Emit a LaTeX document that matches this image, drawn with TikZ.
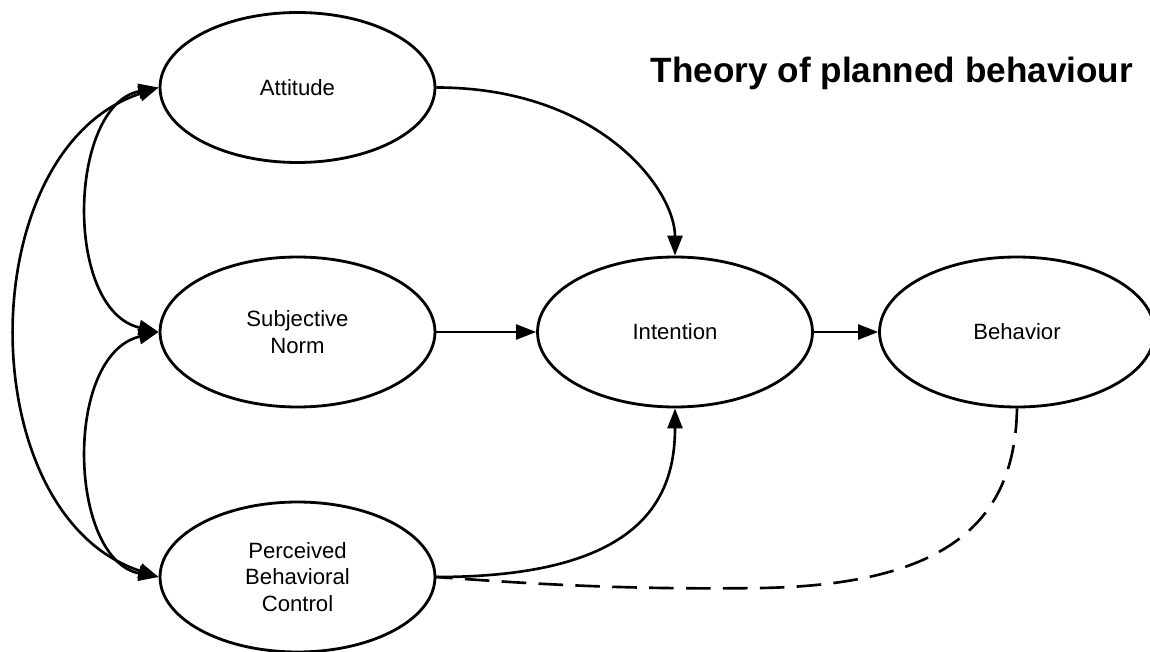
\documentclass[tikz,border=0pt]{standalone}
\usepackage{fontspec}
\setmainfont{Liberation Sans}
\usetikzlibrary{arrows.meta,shapes.geometric}
\begin{document}
\begin{tikzpicture}[x=0.02cm,y=-0.02cm,
  oval/.style={ellipse,draw,line width=1.6pt,minimum width=5.5cm,minimum height=3cm,inner sep=0pt,align=center,font=\fontsize{12.6}{15.3}\selectfont},
  tip/.style={Triangle[length=0.4cm,width=0.3cm]},
  conn/.style={line width=1.5pt,-{Triangle[length=0.4cm,width=0.3cm]}},
  biconn/.style={line width=1.5pt,{Triangle[length=0.4cm,width=0.3cm]}-{Triangle[length=0.4cm,width=0.3cm]}},
  dashline/.style={line width=1.5pt,dash pattern=on 14pt off 7pt},
  titlestyle/.style={font=\bfseries\fontsize{20}{24}\selectfont,anchor=base,inner sep=0pt}]
\useasboundingbox (0,0) rectangle (1150,652);

\node[oval] (att) at (297.5,87.5) {Attitude};
\node[oval] (sn) at (297.5,332) {Subjective\\Norm};
\node[oval] (pbc) at (297.5,577) {Perceived\\Behavioral\\Control};
\node[oval] (int) at (675,332) {Intention};
\node[oval] (beh) at (1017,332) {Behavior};

\node[titlestyle] (title) at (892,83) {Theory of planned behaviour};

\draw[conn] (att.east) .. controls (600,87.5) and (675,190) .. (int.north);
\draw[conn] (sn.east) -- (int.west);
\draw[conn] (int.east) -- (beh.west);
\draw[conn] (pbc.east) .. controls (640,577) and (675,500) .. (int.south);
\draw[dashline] (beh.south) .. controls (1015,520) and (950,585) .. (760,588) .. controls (620,590) and (520,583) .. (pbc.east);

\draw[biconn] (att.west) .. controls (68,105) and (63,310) .. (sn.west);
\draw[biconn] (sn.west) .. controls (63,355) and (68,560) .. (pbc.west);
\draw[biconn] (att.west) .. controls (-30,150) and (-30,515) .. (pbc.west);
\end{tikzpicture}
\end{document}
